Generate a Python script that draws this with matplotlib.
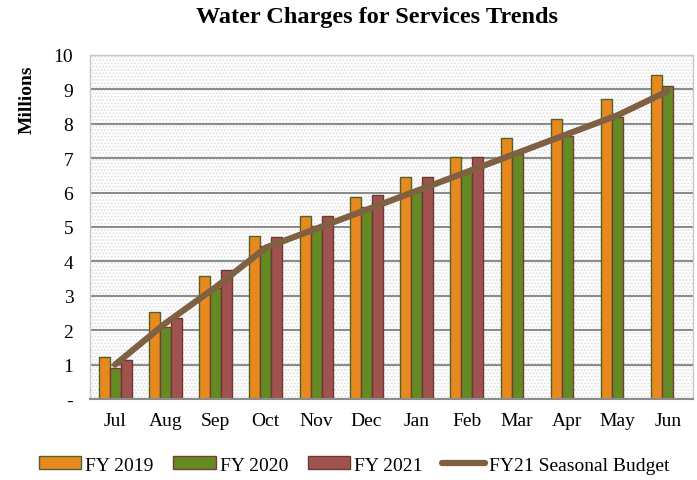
import numpy as np
from matplotlib import pyplot as plt
from matplotlib.patches import Rectangle


months = ["Jul", "Aug", "Sep", "Oct", "Nov", "Dec",
          "Jan", "Feb", "Mar", "Apr", "May", "Jun"]
fy2019 = [1.21, 2.54, 3.58, 4.75, 5.31, 5.88, 6.46, 7.04, 7.58, 8.14, 8.72, 9.42]
fy2020 = [0.90, 2.09, 3.22, 4.45, 5.02, 5.57, 6.05, 6.62, 7.12, 7.64, 8.20, 9.11]
fy2021 = [1.12, 2.35, 3.76, 4.70, 5.31, 5.93, 6.46, 7.04]
budget = [1.0, 2.2, 3.25, 4.4, 4.95, 5.5, 6.05, 6.6, 7.15, 7.7, 8.25, 8.95]
yticks = [0, 1, 2, 3, 4, 5, 6, 7, 8, 9, 10]
yticklabels = ["-", "1", "2", "3", "4", "5", "6", "7", "8", "9", "10"]

plt.rcParams["font.family"] = ["Liberation Serif", "DejaVu Serif"]

W, H = 697, 481
fig = plt.figure(figsize=(W / 100, H / 100), dpi=100)
ax = fig.add_axes([90 / W, 1 - 400 / H, (693 - 90) / W, (400 - 56) / H])

# Фон з точковим візерунком
ax.add_patch(Rectangle((0, 0), 1, 1, transform=ax.transAxes, facecolor="white",
                       hatch=".....", edgecolor="#e2e2e2", linewidth=0, zorder=0))

x = np.arange(len(months))
w = 0.22
b1 = ax.bar(x - w, fy2019, w, color="#E8891F", edgecolor="#4F6228", lw=1.0,
            label="FY 2019", zorder=2)
b2 = ax.bar(x, fy2020, w, color="#638A23", edgecolor="#7A3B36", lw=1.0,
            label="FY 2020", zorder=2)
b3 = ax.bar(np.arange(len(fy2021)) + w, fy2021, w, color="#A0524F",
            edgecolor="#6B3A33", lw=1.0, label="FY 2021", zorder=2)
ln, = ax.plot(x, budget, color="#7F6043", lw=4.5, solid_capstyle="round",
              label="FY21 Seasonal Budget", zorder=3)

ax.set_xlim(-0.5, len(months) - 0.5)
ax.set_ylim(0, 10)
ax.set_xticks(x)
ax.set_xticklabels(months, fontsize=14)
ax.set_yticks(yticks)
ax.set_yticklabels(yticklabels, fontsize=14)
ax.tick_params(length=0, pad=9)
ax.tick_params(axis="y", pad=12)
ax.yaxis.grid(True, color="#8c8c8c", lw=1.5, zorder=1)
ax.set_axisbelow(True)
for s in ax.spines.values():
    s.set_color("#c8c8c8")
    s.set_linewidth(1)
ax.spines["bottom"].set_color("#8c8c8c")
ax.spines["bottom"].set_linewidth(1.5)

fig.text(377 / W, 1 - 18 / H, "Water Charges for Services Trends", ha="center",
         va="center", fontsize=17.5, fontweight="bold")
fig.text(27 / W, 1 - 100 / H, "Millions", rotation=90, ha="center", va="center",
         fontsize=14, fontweight="bold")

fig.legend([b1, b2, b3, ln], [h.get_label() for h in (b1, b2, b3, ln)],
           loc="center", bbox_to_anchor=(354 / W, 1 - 466 / H), ncol=4,
           frameon=False, fontsize=14, handlelength=2.2, handleheight=0.6,
           handletextpad=0.2, columnspacing=1.0)

fig.savefig("out.png", dpi=100)
